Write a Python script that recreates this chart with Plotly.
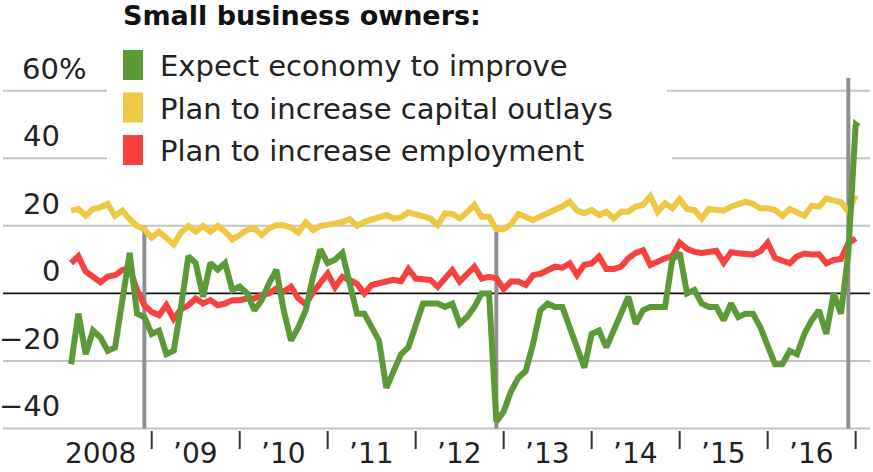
import plotly.graph_objects as go

# Monthly survey readings, Jan 2008 - Dec 2016 (net percent of owners)
years = list(range(2008, 2017))

expect_economy = [
    -21, -6, -18, -11, -13, -17, -16, -3, 12, -6, -7, -12,      # 2008
    -11, -18, -17, -4, 11, 9, -1, 9, 7, 9, 1, 2,                # 2009
    0, -5, -2, 3, 7, -5, -14, -10, -5, 5, 13, 9,                # 2010
    10, 12, 3, -6, -6, -10, -14, -28, -23, -18, -16, -10,       # 2011
    -3, -3, -3, -4, -3, -9, -7, -4, 0, 0, -38, -35,             # 2012
    -29, -25, -23, -15, -5, -3, -4, -4, -10, -17, -22, -12,     # 2013
    -11, -16, -11, -7, -1, -9, -5, -4, -4, -4, 10, 12,          # 2014
    0, 1, -3, -4, -4, -8, -3, -7, -6, -6, -10, -15,             # 2015
    -21, -21, -17, -18, -12, -8, -5, -12, 0, -6, 12, 50,        # 2016
]

capital_outlays = [
    24.5, 25, 23, 25, 25.5, 26.5, 23, 24.5, 22, 20, 19, 16.5,
    18.3, 16.5, 14.5, 18, 20, 18.3, 20, 18.3, 20, 18.3, 16, 17.3,
    18.8, 19.3, 17.3, 19.3, 20.2, 20.2, 19.5, 18, 21, 18.8, 20, 20.3,
    20.7, 21.2, 22, 20, 21.2, 21.8, 22.2, 23.2, 22.2, 22.5, 24, 23.5,
    23, 22.2, 20.2, 23.7, 23.5, 22.2, 24, 26.2, 22.7, 22.7, 19, 19,
    20.5, 23.5, 22.7, 21.7, 22.8, 24, 24.8, 25.7, 27.2, 24.5, 23.7, 24.7,
    23.2, 24.2, 22.2, 24.2, 24.2, 25.7, 26.2, 28.8, 24.2, 26.7, 25.2, 27.9,
    25, 24.7, 22.2, 25, 24.7, 24.5, 25.7, 26.5, 27.2, 26.5, 25.2, 25.2,
    24.7, 23, 25, 24, 23, 26, 25.7, 28.1, 27.5, 27, 24.2, 29,
]

employment = [
    9, 11, 6.5, 5, 3.3, 5, 5.4, 6.9, 7.4, 1, -3.5, -5.5,
    -6.5, -3.5, -7.5, -4.7, -3.5, -1.5, -3, -2, -3.5, -3, -2, -2,
    -1.5, -1.5, -0.5, 0, 1.5, 0.5, 2, -1.5, -3.2, 0.3, 3, 5.9,
    1.8, 4.9, 4, 2.8, 0, 2.5, 3, 3.6, 4, 3.6, 7.2, 4.4,
    4.4, 4, 2, 4.4, 6.9, 3.5, 5.5, 7.9, 4.4, 4.9, 4.5, 1.3,
    3.5, 3.5, 2.5, 5.4, 5.8, 6.8, 7.9, 7.6, 8.9, 5.4, 8.5, 8.9,
    10.9, 7.2, 7.2, 7.9, 10.4, 12, 12.8, 8.4, 9.5, 10.4, 11, 15,
    13.2, 12.3, 12, 12.2, 12.6, 9.1, 12.2, 11.9, 11.8, 11.5, 12.5, 15,
    10.5, 9.5, 8.9, 11, 11.8, 11.5, 11.6, 8.9, 9.9, 10.2, 14.8, 16.3,
]

y_ticks = [60, 40, 20, 0, -20, -40]
y_tick_labels = ["60%", "40", "20", "0", "−20", "−40"]
x_labels = ["2008", "’09", "’10", "’11", "’12", "’13", "’14", "’15", "’16"]
election_years = [2008, 2012, 2016]

series_names = [
    "Expect economy to improve",
    "Plan to increase capital outlays",
    "Plan to increase employment",
]
GREEN, YELLOW, RED = "#5c9a37", "#eec843", "#f6423f"
GRID, VLINE = "#c4c4c4", "#8f8f8f"
FONT = "DejaVu Sans"

W, H = 873, 472
X_RANGE = [2007.276, 2017.197]
Y_RANGE = [-52.9, 86.9]

# each reading sits at the end of its month
t = [y + (m + 1) / 12 for y in years for m in range(12)]


def px_x(p):
    return p / W


def px_y(p):
    return 1 - p / H


fig = go.Figure()

for vals, color, name in [
    (capital_outlays, YELLOW, series_names[1]),
    (employment, RED, series_names[2]),
    (expect_economy, GREEN, series_names[0]),
]:
    fig.add_trace(go.Scatter(
        x=t, y=vals, mode="lines", name=name, showlegend=False,
        line=dict(color=color, width=6, shape="linear"),
        hoverinfo="skip",
    ))

# arrowhead on the latest reading
fig.add_trace(go.Scatter(
    x=[t[-1]], y=[expect_economy[-1]], mode="markers", showlegend=False,
    marker=dict(symbol="triangle-right", size=10, color=GREEN),
    hoverinfo="skip",
))

shapes = []
# horizontal gridlines; the top two break around the legend
for v in y_ticks:
    if v in (60, 40):
        segs = [(3, 107), (667 if v == 60 else 672, 870)]
    else:
        segs = [(3, 870)]
    for a, b in segs:
        shapes.append(dict(
            type="line", xref="paper", yref="y",
            x0=px_x(a), x1=px_x(b), y0=v, y1=v,
            line=dict(color="#111111" if v == 0 else GRID,
                      width=1.6 if v == 0 else 2),
            layer="below",
        ))

# election-month markers (November readings)
for yr in election_years:
    xv = yr + 11 / 12
    top = 63.8 if yr == 2016 else 20
    shapes.append(dict(
        type="line", xref="x", yref="y", x0=xv, x1=xv, y0=-40, y1=top,
        line=dict(color=VLINE, width=4), layer="below",
    ))

# year-boundary ticks below the axis
for yr in range(2009, 2018):
    shapes.append(dict(
        type="line", xref="x", yref="paper", x0=yr, x1=yr,
        y0=px_y(431), y1=px_y(449),
        line=dict(color="#333333", width=2),
    ))

# legend swatches
for i, color in enumerate([GREEN, YELLOW, RED]):
    top = 50 + i * 42.5
    shapes.append(dict(
        type="rect", xref="paper", yref="paper",
        x0=px_x(123), x1=px_x(143), y0=px_y(top + 30), y1=px_y(top),
        fillcolor=color, line=dict(width=0),
    ))

annotations = []
# y-axis labels sit above their gridlines
for v, lab in zip(y_ticks, y_tick_labels):
    pct = lab.endswith("%")
    annotations.append(dict(
        x=px_x(20 if pct else 62), xref="paper",
        xanchor="left" if pct else "right",
        y=v, yref="y", yanchor="middle", yshift=22,
        text=lab, showarrow=False,
        font=dict(family=FONT, size=29, color="#222222"),
    ))

# year labels between ticks, resting on the bottom edge
for yr, lab in zip(years, x_labels):
    xc = yr + 0.42 if yr == 2008 else yr + 0.5
    annotations.append(dict(
        x=xc, xref="x", xanchor="center",
        y=0, yref="paper", yanchor="bottom",
        text=lab, showarrow=False,
        font=dict(family=FONT, size=28, color="#222222"),
    ))

# title and legend text
annotations.append(dict(
    x=px_x(121), xref="paper", xanchor="left",
    y=px_y(15), yref="paper", yanchor="middle",
    text="<b>Small business owners:</b>", showarrow=False,
    font=dict(family=FONT, size=27, color="#111111"),
))
for i, name in enumerate(series_names):
    annotations.append(dict(
        x=px_x(158), xref="paper", xanchor="left",
        y=px_y(66 + i * 42.5), yref="paper", yanchor="middle",
        text=name, showarrow=False,
        font=dict(family=FONT, size=29, color="#222222"),
    ))

fig.update_layout(
    width=W, height=H,
    margin=dict(l=0, r=0, t=0, b=0),
    paper_bgcolor="white", plot_bgcolor="white",
    showlegend=False,
    xaxis=dict(range=X_RANGE, visible=False, fixedrange=True),
    yaxis=dict(range=Y_RANGE, visible=False, fixedrange=True),
    shapes=shapes, annotations=annotations,
)

fig.write_html("out.html", config={"displayModeBar": False})
